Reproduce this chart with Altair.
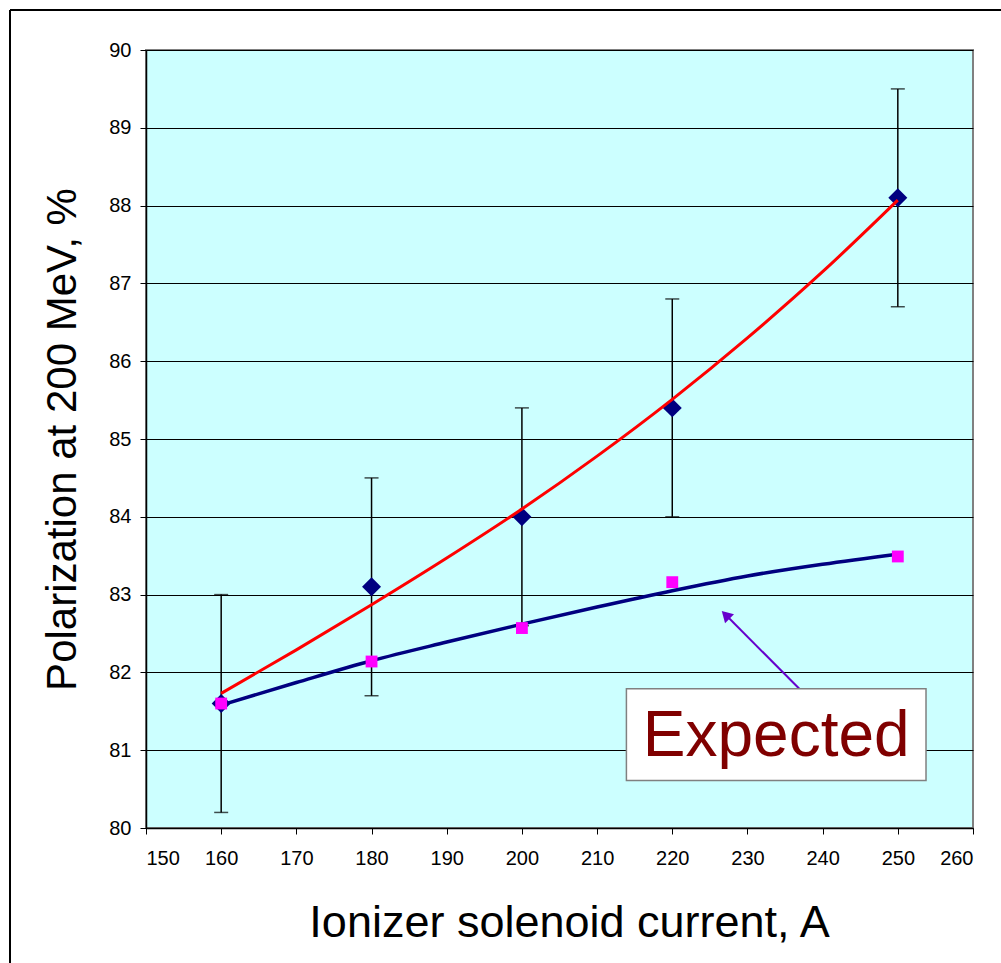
import altair as alt
import pandas as pd

# ---- data ----
current = [160, 180, 200, 220, 250]
measured = [81.6, 83.1, 84.0, 85.4, 88.1]
err = [1.4, 1.4, 1.4, 1.4, 1.4]
expected_pts = [81.6, 82.14, 82.57, 83.16, 83.49]

fit_x = [160, 170, 180, 190, 200, 210, 220, 230, 240, 250]
fit_red = [81.73, 82.29, 82.87, 83.47, 84.10, 84.78, 85.51, 86.30, 87.15, 88.07]
fit_blue = [81.58, 81.87, 82.15, 82.39, 82.62, 82.84, 83.05, 83.24, 83.39, 83.52]

label_text = ["Expected"]
label_box_x = [213.9, 253.75]
label_box_y = [80.61, 81.79]
arrow_tail = [236.9, 81.79]
arrow_head = [227.1, 82.74]

FONT = "Liberation Sans"

pts = pd.DataFrame({
    "I": current,
    "P": measured,
    "lo": [m - e for m, e in zip(measured, err)],
    "hi": [m + e for m, e in zip(measured, err)],
    "E": expected_pts,
})
fit = pd.DataFrame({"I": fit_x, "red": fit_red, "blue": fit_blue})

xs = alt.Scale(domain=[150, 260], nice=False, zero=False)
ys = alt.Scale(domain=[80, 90], nice=False, zero=False)

xaxis = alt.Axis(
    title="Ionizer solenoid current, A",
    values=list(range(150, 261, 10)), format="d",
    grid=False, tickSize=6, tickColor="black", tickWidth=1,
    domainColor="black", domainWidth=1.5,
    labelFont=FONT, labelFontSize=20, labelColor="black", labelPadding=14,
    titleFont=FONT, titleFontSize=45, titleFontWeight="normal", titleColor="black",
    titleX=423, titleY=108, titleBaseline="alphabetic", titleAnchor="middle",
)
yaxis = alt.Axis(
    title="Polarization at 200 MeV, %",
    values=list(range(80, 91)), format="d",
    grid=True, gridColor="black", gridWidth=1, gridOpacity=1,
    tickSize=6, tickColor="black", tickWidth=1,
    domainColor="black", domainWidth=1.5,
    labelFont=FONT, labelFontSize=20, labelColor="black", labelPadding=9,
    titleFont=FONT, titleFontSize=42, titleFontWeight="normal", titleColor="black",
    titleAngle=270, titleX=-71, titleY=389, titleBaseline="alphabetic",
    titleAlign="center",
)

base = alt.Chart(pts)

grid_layer = base.mark_point(opacity=0).encode(
    x=alt.X("I:Q", scale=xs, axis=xaxis),
    y=alt.Y("P:Q", scale=ys, axis=yaxis),
)

stems = base.mark_rule(color="black", strokeWidth=1.5).encode(
    x=alt.X("I:Q", scale=xs), y=alt.Y("lo:Q", scale=ys), y2="hi:Q"
)
cap_lo = base.mark_tick(color="black", orient="horizontal", size=14, thickness=1.5).encode(
    x=alt.X("I:Q", scale=xs), y=alt.Y("lo:Q", scale=ys)
)
cap_hi = base.mark_tick(color="black", orient="horizontal", size=14, thickness=1.5).encode(
    x=alt.X("I:Q", scale=xs), y=alt.Y("hi:Q", scale=ys)
)
diamonds = base.mark_point(shape="diamond", filled=True, color="#000080", size=360, opacity=1).encode(
    x=alt.X("I:Q", scale=xs), y=alt.Y("P:Q", scale=ys)
)
red_line = alt.Chart(fit).mark_line(color="#FF0000", strokeWidth=3, interpolate="monotone").encode(
    x=alt.X("I:Q", scale=xs), y=alt.Y("red:Q", scale=ys)
)
blue_line = alt.Chart(fit).mark_line(color="#000080", strokeWidth=3.5, interpolate="monotone").encode(
    x=alt.X("I:Q", scale=xs), y=alt.Y("blue:Q", scale=ys)
)
squares = base.mark_square(color="#FF00FF", size=140, opacity=1).encode(
    x=alt.X("I:Q", scale=xs), y=alt.Y("E:Q", scale=ys)
)

box_df = pd.DataFrame({"x1": [label_box_x[0]], "x2": [label_box_x[1]],
                       "y1": [label_box_y[0]], "y2": [label_box_y[1]],
                       "t": label_text,
                       "cx": [(label_box_x[0] + label_box_x[1]) / 2],
                       "cy": [(label_box_y[0] + label_box_y[1]) / 2]})
box = alt.Chart(box_df).mark_rect(fill="white", stroke="#808080", strokeWidth=1.5).encode(
    x=alt.X("x1:Q", scale=xs), x2="x2:Q", y=alt.Y("y1:Q", scale=ys), y2="y2:Q"
)
box_text = alt.Chart(box_df).mark_text(font=FONT, fontSize=64, color="#800000",
                                       align="center", baseline="middle", dy=2).encode(
    x=alt.X("cx:Q", scale=xs), y=alt.Y("cy:Q", scale=ys), text="t:N"
)

arrow_df = pd.DataFrame({"x1": [arrow_tail[0]], "y1": [arrow_tail[1]],
                         "x2": [arrow_head[0]], "y2": [arrow_head[1]]})
arrow_line = alt.Chart(arrow_df).mark_rule(color="#6600CC", strokeWidth=2).encode(
    x=alt.X("x1:Q", scale=xs), y=alt.Y("y1:Q", scale=ys), x2="x2:Q", y2="y2:Q"
)
arrow_head_m = alt.Chart(arrow_df).mark_point(shape="triangle-up", filled=True, color="#6600CC",
                                              size=160, angle=315, opacity=1).encode(
    x=alt.X("x2:Q", scale=xs), y=alt.Y("y2:Q", scale=ys)
)

frame_left = alt.Chart(pts).mark_rule(color="black", strokeWidth=1.5).encode(
    x=alt.value(-136), y=alt.value(-40), y2=alt.value(913)
)
frame_top = alt.Chart(pts).mark_rule(color="black", strokeWidth=1.5).encode(
    x=alt.value(-136), x2=alt.value(860), y=alt.value(-40)
)

chart = alt.layer(
    grid_layer, stems, cap_lo, cap_hi, diamonds, red_line, blue_line, squares,
    arrow_line, arrow_head_m, box, box_text, frame_left, frame_top
).properties(
    width=827, height=778,
    autosize=alt.AutoSizeParams(type="none"),
    padding={"left": 146, "top": 50, "right": 28, "bottom": 135},
    background="white",
).configure_view(
    fill="#CCFFFF", stroke="#808080", strokeWidth=2
)

chart.save("out.html", embed_options={"renderer": "svg", "actions": False})
